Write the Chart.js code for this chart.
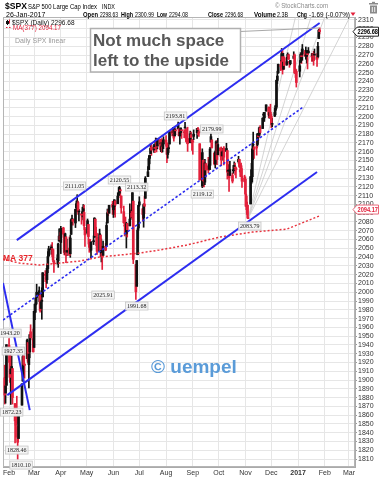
<!DOCTYPE html>
<html>
<head>
<meta charset="utf-8">
<script src="https://cdn.jsdelivr.net/npm/chart.js@4.4.0/dist/chart.umd.min.js"></script>
<style>
  html, body { margin: 0; padding: 0; background: #fff; overflow: hidden; }
  canvas { display: block; }
</style>
</head>
<body>
<canvas id="spxChart" width="379" height="480"></canvas>
<script>
// daily candles, $SPX
const dates = [
  '2016-01-27','2016-01-28','2016-01-29',
  '2016-02-01','2016-02-02','2016-02-03','2016-02-04','2016-02-05','2016-02-08','2016-02-09','2016-02-10','2016-02-11','2016-02-12','2016-02-16','2016-02-17','2016-02-18','2016-02-19','2016-02-22','2016-02-23','2016-02-24','2016-02-25','2016-02-26','2016-02-29',
  '2016-03-01','2016-03-02','2016-03-03','2016-03-04','2016-03-07','2016-03-08','2016-03-09','2016-03-10','2016-03-11','2016-03-14','2016-03-15','2016-03-16','2016-03-17','2016-03-18','2016-03-21','2016-03-22','2016-03-23','2016-03-24','2016-03-28','2016-03-29','2016-03-30','2016-03-31',
  '2016-04-01','2016-04-04','2016-04-05','2016-04-06','2016-04-07','2016-04-08','2016-04-11','2016-04-12','2016-04-13','2016-04-14','2016-04-15','2016-04-18','2016-04-19','2016-04-20','2016-04-21','2016-04-22','2016-04-25','2016-04-26','2016-04-27','2016-04-28','2016-04-29',
  '2016-05-02','2016-05-03','2016-05-04','2016-05-05','2016-05-06','2016-05-09','2016-05-10','2016-05-11','2016-05-12','2016-05-13','2016-05-16','2016-05-17','2016-05-18','2016-05-19','2016-05-20','2016-05-23','2016-05-24','2016-05-25','2016-05-26','2016-05-27','2016-05-31',
  '2016-06-01','2016-06-02','2016-06-03','2016-06-06','2016-06-07','2016-06-08','2016-06-09','2016-06-10','2016-06-13','2016-06-14','2016-06-15','2016-06-16','2016-06-17','2016-06-20','2016-06-21','2016-06-22','2016-06-23','2016-06-24','2016-06-27','2016-06-28','2016-06-29','2016-06-30',
  '2016-07-01','2016-07-05','2016-07-06','2016-07-07','2016-07-08','2016-07-11','2016-07-12','2016-07-13','2016-07-14','2016-07-15','2016-07-18','2016-07-19','2016-07-20','2016-07-21','2016-07-22','2016-07-25','2016-07-26','2016-07-27','2016-07-28','2016-07-29',
  '2016-08-01','2016-08-02','2016-08-03','2016-08-04','2016-08-05','2016-08-08','2016-08-09','2016-08-10','2016-08-11','2016-08-12','2016-08-15','2016-08-16','2016-08-17','2016-08-18','2016-08-19','2016-08-22','2016-08-23','2016-08-24','2016-08-25','2016-08-26','2016-08-29','2016-08-30','2016-08-31',
  '2016-09-01','2016-09-02','2016-09-06','2016-09-07','2016-09-08','2016-09-09','2016-09-12','2016-09-13','2016-09-14','2016-09-15','2016-09-16','2016-09-19','2016-09-20','2016-09-21','2016-09-22','2016-09-23','2016-09-26','2016-09-27','2016-09-28','2016-09-29','2016-09-30',
  '2016-10-03','2016-10-04','2016-10-05','2016-10-06','2016-10-07','2016-10-10','2016-10-11','2016-10-12','2016-10-13','2016-10-14','2016-10-17','2016-10-18','2016-10-19','2016-10-20','2016-10-21','2016-10-24','2016-10-25','2016-10-26','2016-10-27','2016-10-28','2016-10-31',
  '2016-11-01','2016-11-02','2016-11-03','2016-11-04','2016-11-07','2016-11-08','2016-11-09','2016-11-10','2016-11-11','2016-11-14','2016-11-15','2016-11-16','2016-11-17','2016-11-18','2016-11-21','2016-11-22','2016-11-23','2016-11-25','2016-11-28','2016-11-29','2016-11-30',
  '2016-12-01','2016-12-02','2016-12-05','2016-12-06','2016-12-07','2016-12-08','2016-12-09','2016-12-12','2016-12-13','2016-12-14','2016-12-15','2016-12-16','2016-12-19','2016-12-20','2016-12-21','2016-12-22','2016-12-23','2016-12-27','2016-12-28','2016-12-29','2016-12-30',
  '2017-01-03','2017-01-04','2017-01-05','2017-01-06','2017-01-09','2017-01-10','2017-01-11','2017-01-12','2017-01-13','2017-01-17','2017-01-18','2017-01-19','2017-01-20','2017-01-23','2017-01-24','2017-01-25','2017-01-26'
];
const opens = [
  1902.5,1885.2,1894.0,
  1936.9,1935.3,1907.07,1911.67,1913.07,1873.25,1848.46,1857.1,1847.0,1833.4,1871.44,1898.8,1927.57,1916.74,1924.44,1942.77,1917.56,1931.87,1954.95,1947.13,
  1937.09,1976.6,1985.6,1994.01,1996.11,1996.88,1981.44,1990.97,1994.71,2019.27,2015.27,2014.24,2026.9,2041.16,2048.64,2048.64,2048.55,2032.48,2037.89,2035.75,2058.27,2063.77,
  2056.62,2073.19,2062.5,2045.56,2063.01,2045.54,2050.23,2043.72,2065.92,2082.89,2083.1,2078.83,2096.05,2101.52,2102.09,2091.49,2089.37,2089.84,2092.57,2090.93,2071.82,
  2067.17,2077.18,2060.3,2052.95,2047.77,2057.55,2062.63,2083.29,2067.17,2062.5,2046.53,2065.04,2044.38,2044.21,2041.88,2052.23,2052.65,2078.93,2091.44,2090.06,2100.13,
  2093.94,2097.71,2104.07,2100.83,2110.18,2112.71,2115.65,2109.57,2091.75,2076.65,2077.6,2066.36,2078.2,2075.58,2085.19,2089.75,2092.8,2103.81,2031.45,2006.67,2042.69,2073.17,
  2099.34,2095.05,2084.43,2100.42,2106.97,2131.72,2139.5,2155.81,2157.88,2165.13,2162.04,2163.79,2166.1,2172.91,2166.47,2173.71,2168.97,2169.81,2166.05,2168.83,
  2173.15,2169.94,2156.81,2163.51,2168.79,2183.76,2182.24,2182.81,2177.97,2183.74,2186.08,2186.24,2177.84,2181.9,2184.24,2181.58,2187.81,2185.09,2173.29,2175.1,2170.19,2179.45,2173.56,
  2171.33,2177.49,2181.61,2185.17,2182.76,2169.08,2120.86,2150.47,2127.86,2125.36,2146.48,2143.99,2145.94,2144.58,2170.94,2173.29,2158.54,2146.04,2161.85,2168.9,2156.51,
  2164.33,2163.37,2155.15,2158.22,2164.19,2160.39,2161.35,2137.67,2130.26,2139.68,2132.95,2138.31,2140.81,2142.51,2139.43,2148.5,2151.16,2136.97,2144.06,2132.23,2129.78,
  2128.68,2109.43,2098.8,2083.79,2100.59,2129.92,2131.56,2167.49,2162.71,2165.64,2168.29,2177.53,2178.61,2186.85,2186.43,2201.56,2198.55,2206.27,2210.21,2200.76,2204.97,
  2200.17,2191.12,2200.65,2207.26,2210.72,2241.13,2249.73,2258.83,2263.32,2268.35,2253.77,2266.81,2259.24,2266.5,2270.54,2262.93,2260.25,2266.23,2270.23,2249.5,2251.61,
  2251.57,2261.6,2268.18,2271.14,2273.59,2269.72,2268.6,2271.14,2272.74,2269.14,2269.14,2271.9,2269.96,2267.78,2267.88,2288.88,2298.63
];
const highs = [
  1916.99,1902.96,1940.24,
  1947.2,1935.3,1918.01,1927.35,1913.07,1873.25,1868.25,1881.6,1847.0,1864.78,1895.77,1930.68,1930.0,1918.78,1946.7,1942.77,1932.08,1951.83,1962.96,1958.27,
  1978.35,1986.51,1993.69,2009.13,2006.12,1996.88,1992.69,2005.08,2022.37,2024.57,2015.94,2032.02,2046.24,2052.36,2053.91,2056.6,2048.55,2036.04,2042.67,2055.91,2072.21,2067.92,
  2075.07,2074.02,2062.5,2067.33,2063.01,2060.63,2062.93,2065.05,2083.18,2087.84,2083.22,2094.66,2104.05,2111.05,2103.78,2094.32,2089.37,2096.87,2099.89,2099.3,2073.85,
  2083.42,2077.18,2060.3,2060.23,2057.72,2064.15,2084.87,2083.29,2073.99,2066.79,2071.88,2065.69,2060.61,2044.21,2058.35,2055.58,2079.67,2094.73,2094.3,2099.06,2103.48,
  2100.97,2105.26,2104.07,2113.36,2119.22,2120.55,2117.64,2109.57,2098.12,2081.3,2085.65,2079.62,2078.2,2100.66,2093.66,2099.71,2113.32,2103.81,2031.45,2036.09,2073.13,2098.94,
  2108.71,2095.05,2100.72,2109.08,2131.71,2143.16,2155.4,2156.45,2169.05,2169.05,2168.35,2164.63,2175.63,2174.56,2175.11,2173.71,2173.54,2174.98,2172.85,2177.09,
  2178.29,2170.2,2163.79,2168.19,2182.87,2185.44,2187.66,2183.41,2188.45,2186.28,2193.81,2186.24,2183.08,2187.03,2185.0,2185.15,2193.42,2186.66,2179.0,2187.94,2183.48,2182.27,2173.79,
  2173.56,2184.87,2186.57,2187.87,2184.94,2169.08,2163.3,2150.47,2141.33,2151.31,2146.48,2153.61,2150.8,2165.11,2179.99,2173.75,2158.54,2161.13,2172.4,2172.67,2175.3,
  2164.41,2165.46,2163.95,2162.93,2165.86,2169.6,2161.56,2145.36,2138.19,2149.19,2135.61,2144.38,2148.44,2147.18,2142.63,2154.79,2151.44,2145.73,2147.13,2140.72,2133.25,
  2131.45,2111.76,2102.56,2099.07,2132.0,2146.87,2170.1,2182.3,2165.92,2171.36,2180.84,2179.22,2188.06,2189.89,2198.7,2204.8,2204.72,2213.35,2211.14,2210.46,2214.1,
  2202.6,2197.95,2209.42,2212.78,2241.63,2251.69,2259.8,2264.03,2277.53,2276.2,2272.12,2268.05,2267.47,2272.56,2271.23,2263.18,2263.79,2273.82,2271.31,2254.51,2253.58,
  2263.88,2272.82,2271.5,2282.1,2275.49,2279.27,2275.32,2271.78,2278.68,2272.08,2272.01,2274.33,2276.96,2271.78,2284.63,2299.55,2300.99
];
const lows = [
  1872.7,1873.65,1894.0,
  1920.03,1897.29,1872.23,1900.52,1872.65,1828.46,1834.94,1850.32,1810.1,1833.4,1871.44,1898.8,1915.09,1902.17,1924.44,1919.44,1891.0,1925.41,1945.78,1931.81,
  1937.09,1968.8,1977.37,1986.77,1989.38,1977.43,1979.84,1969.25,1994.71,2012.05,2005.23,2010.04,2022.16,2041.16,2043.14,2040.57,2034.86,2022.49,2031.96,2028.31,2058.27,2057.46,
  2043.98,2062.57,2042.56,2043.09,2033.8,2041.69,2041.88,2039.74,2065.92,2078.13,2076.31,2073.65,2091.68,2096.32,2088.52,2081.2,2077.52,2085.8,2082.31,2071.62,2052.28,
  2066.11,2054.89,2045.55,2045.77,2039.45,2054.31,2062.63,2064.46,2053.13,2043.13,2046.53,2040.82,2034.49,2025.91,2041.88,2047.26,2052.65,2078.93,2087.08,2090.06,2088.66,
  2085.1,2088.59,2085.36,2100.83,2110.18,2112.71,2107.73,2089.96,2078.46,2064.1,2069.8,2050.37,2062.84,2075.58,2083.02,2084.36,2092.8,2032.57,1991.68,2006.67,2042.69,2070.0,
  2097.9,2080.86,2074.02,2089.39,2106.97,2131.72,2139.5,2146.21,2157.88,2155.79,2159.07,2159.01,2164.89,2159.75,2163.24,2161.95,2160.18,2159.07,2159.74,2163.49,
  2166.21,2147.58,2152.63,2159.07,2168.79,2177.85,2178.61,2172.0,2177.97,2179.42,2186.08,2178.14,2168.5,2180.46,2175.13,2175.96,2186.8,2171.25,2169.74,2160.39,2170.19,2170.41,2161.35,
  2157.09,2173.59,2175.1,2179.07,2177.49,2127.81,2119.12,2120.27,2119.9,2122.36,2131.2,2135.91,2139.17,2139.57,2170.94,2163.97,2145.04,2141.55,2151.79,2145.2,2156.51,
  2154.77,2144.01,2155.15,2150.28,2144.85,2160.39,2128.84,2132.77,2114.72,2132.98,2124.43,2135.49,2138.15,2133.44,2130.09,2146.91,2141.93,2131.59,2132.52,2119.36,2125.53,
  2097.85,2094.0,2085.23,2083.79,2100.59,2123.56,2125.35,2151.17,2152.49,2156.08,2166.38,2172.2,2176.65,2180.38,2186.43,2194.51,2194.51,2206.27,2198.36,2198.15,2198.81,
  2187.44,2188.37,2199.97,2202.21,2208.93,2237.57,2249.23,2252.37,2263.32,2248.44,2253.77,2254.24,2258.21,2266.14,2265.15,2256.08,2258.84,2266.15,2249.11,2244.56,2233.62,
  2245.13,2261.6,2260.45,2264.06,2268.9,2265.27,2260.83,2254.25,2271.51,2262.81,2263.35,2258.41,2265.01,2257.02,2266.68,2288.88,2294.08
];
const closes = [
  1882.95,1893.36,1940.24,
  1939.38,1903.03,1912.53,1915.45,1880.05,1853.44,1852.21,1851.86,1829.08,1864.78,1895.58,1926.82,1917.83,1917.78,1945.5,1921.27,1929.8,1951.7,1948.05,1932.23,
  1978.35,1986.45,1993.4,1999.99,2001.76,1979.26,1989.26,1989.57,2022.19,2019.64,2015.93,2027.22,2040.59,2049.58,2051.6,2049.8,2036.71,2035.94,2037.05,2055.01,2063.95,2059.74,
  2072.78,2066.13,2045.17,2066.66,2041.91,2047.6,2041.99,2061.72,2082.42,2082.78,2080.73,2094.34,2100.8,2102.4,2091.48,2091.58,2087.79,2091.7,2095.15,2075.81,2065.3,
  2081.43,2063.37,2051.12,2050.63,2057.14,2058.69,2084.39,2064.46,2064.11,2046.61,2066.66,2047.21,2047.63,2040.04,2052.32,2048.04,2076.06,2090.54,2090.1,2099.06,2096.95,
  2099.33,2105.26,2099.13,2109.41,2112.13,2119.12,2115.48,2096.07,2079.06,2075.32,2071.5,2077.99,2071.22,2083.25,2088.9,2085.45,2113.32,2037.41,2000.54,2036.09,2070.77,2098.86,
  2102.95,2088.55,2099.73,2097.9,2129.9,2137.16,2152.14,2152.43,2163.75,2161.74,2166.89,2163.78,2173.02,2165.17,2175.03,2168.48,2169.18,2166.58,2170.06,2173.6,
  2170.84,2157.03,2163.79,2164.25,2182.87,2180.89,2181.74,2175.49,2185.79,2184.05,2190.15,2178.15,2182.22,2187.02,2183.87,2182.64,2186.9,2175.44,2172.47,2169.04,2180.38,2176.12,2170.95,
  2170.86,2179.98,2186.48,2186.16,2181.3,2127.81,2159.04,2127.02,2125.77,2147.26,2139.16,2139.12,2139.76,2163.12,2177.18,2164.69,2146.1,2159.93,2171.37,2151.13,2168.27,
  2161.2,2150.49,2159.73,2160.77,2153.74,2163.66,2136.73,2139.18,2132.55,2132.98,2126.5,2139.6,2144.29,2141.34,2141.16,2151.33,2143.16,2139.43,2133.04,2126.41,2126.15,
  2111.72,2097.94,2088.66,2085.18,2131.52,2139.56,2163.26,2167.48,2164.45,2164.2,2180.39,2176.94,2187.12,2181.9,2198.18,2202.94,2204.72,2213.35,2201.72,2204.66,2198.81,
  2191.08,2191.95,2204.71,2212.23,2241.35,2246.19,2259.53,2256.96,2271.72,2253.28,2262.03,2258.07,2262.53,2270.76,2265.18,2260.96,2263.79,2268.88,2249.92,2249.26,2238.83,
  2257.83,2270.75,2269.0,2276.98,2268.9,2268.9,2275.32,2270.44,2274.64,2267.89,2271.89,2263.69,2271.31,2265.2,2280.07,2298.37,2296.68
];
const volumeText = '2.3B';

// 377-day moving average
const maDates = ['2016-01-25','2016-02-13','2016-03-07','2016-03-31','2016-04-23','2016-05-16','2016-06-08','2016-07-01','2016-07-24','2016-08-25','2016-10-02','2016-11-09','2016-12-19','2017-01-26'];
const maValues = [2037.8, 2033.2, 2031.0, 2033.2, 2035.5, 2040.1, 2042.3, 2044.6, 2048.0, 2053.7, 2062.8, 2068.5, 2071.9, 2087.0];
const maLast = 2094.17;

// hand drawn trend lines
const upperDates = ['2016-02-10', '2017-01-26'];
const upperValues = [2059.4, 2306.6];
const midDates = ['2016-01-25', '2017-01-07'];
const midValues = [1968.3, 2210.9];
const lowerDates = ['2016-01-30', '2017-01-23'];
const lowerValues = [1882.9, 2136.9];
const steepDates = ['2016-01-25', '2016-02-25'];
const steepValues = [2010.5, 1865.8];
const fanStartDate = '2016-11-04';
const fanStartValue = 2083.79;
const fanEndDates = ['2016-12-29', '2017-01-16', '2017-02-01', '2017-03-02'];
const fanEndValue = 2313.4;

// price call-outs (box centre)
const calloutTexts = ['1943.20','1927.35','1872.23','1828.46','1810.10','2111.05','2120.55','2113.32','1991.68','2025.91','2193.81','2179.99','2119.12','2083.79'];
const calloutDates = ['2016-02-02','2016-02-06','2016-02-04','2016-02-10','2016-02-15','2016-04-17','2016-06-08','2016-06-28','2016-06-28','2016-05-20','2016-08-12','2016-09-23','2016-09-12','2016-11-06'];
const calloutValues = [1953.5, 1933.0, 1863.5, 1820.3, 1803.2, 2121.0, 2127.8, 2119.8, 1984.3, 1996.8, 2200.7, 2185.9, 2111.8, 2075.4];

const monthTicks = ['2016-02-01','2016-03-01','2016-04-01','2016-05-01','2016-06-01','2016-07-01','2016-08-01','2016-09-01','2016-10-01','2016-11-01','2016-12-01','2017-01-01','2017-02-01','2017-03-01'];
const monthLabels = ['Feb','Mar','Apr','May','Jun','Jul','Aug','Sep','Oct','Nov','Dec','2017','Feb','Mar'];

const FONT = '"Liberation Sans", Arial, sans-serif';
const RED = '#e3203b';
const BLUE = '#2d2df0';
const day0 = Date.parse('2016-02-01');
const toX = (d) => (Date.parse(d) - day0) / 86400000;

const xs = dates.map(toX);
const candleColors = closes.map((c, i) => {
  const up = i === 0 ? c >= opens[i] : c >= closes[i - 1];
  return up ? '#111111' : RED;
});

function lineSet(ds, vs, color, width, dash, order) {
  return {
    type: 'line',
    data: ds.map((d, i) => ({ x: toX(d), y: vs[i] })),
    borderColor: color,
    borderWidth: width,
    borderDash: dash,
    pointRadius: 0,
    fill: false,
    tension: 0,
    order: order
  };
}

const fanSets = fanEndDates.map(d => lineSet([fanStartDate, d], [fanStartValue, fanEndValue], '#c9c9c9', 0.8, [], 6));

function txt(ctx, s, x, y, font, color, align) {
  ctx.font = font;
  ctx.fillStyle = color;
  ctx.textAlign = align || 'left';
  ctx.fillText(s, x, y);
}

// text squeezed into [x0, x1] when it is wider than that
function fitTxt(ctx, s, x0, x1, y, font, color) {
  ctx.font = font;
  ctx.fillStyle = color;
  ctx.textAlign = 'left';
  const w = ctx.measureText(s).width;
  const room = x1 - x0;
  if (w <= room) { ctx.fillText(s, x0, y); return; }
  ctx.save();
  ctx.translate(x0, y);
  ctx.scale(room / w, 1);
  ctx.fillText(s, 0, 0);
  ctx.restore();
}

const annotate = {
  id: 'annotate',
  beforeDraw(chart) {
    const ctx = chart.ctx;
    ctx.save();
    ctx.fillStyle = '#fff';
    ctx.fillRect(0, 0, chart.width, chart.height);
    ctx.restore();
  },
  beforeDatasetsDraw(chart) {
    const { ctx, chartArea: a } = chart;
    ctx.save();
    ctx.strokeStyle = '#b5b5b5';
    ctx.lineWidth = 1;
    ctx.strokeRect(a.left + 0.5, a.top + 0.5, a.right - a.left - 1, a.bottom - a.top - 1);
    ctx.restore();
  },
  afterDraw(chart) {
    const { ctx } = chart;
    const xS = chart.scales.x, yS = chart.scales.y;
    const n = closes.length - 1;
    ctx.save();
    ctx.textBaseline = 'alphabetic';

    // header
    fitTxt(ctx, '$SPX', 5, 27, 9, 'bold 9px ' + FONT, '#000');
    fitTxt(ctx, 'S&P 500 Large Cap Index', 28, 97, 8.5, '7px ' + FONT, '#000');
    fitTxt(ctx, 'INDX', 102, 115, 8.5, '6.5px ' + FONT, '#000');
    fitTxt(ctx, '\u00a9 StockCharts.com', 275, 328, 8, '6.5px ' + FONT, '#8a8a8a');
    fitTxt(ctx, '26-Jan-2017', 6, 49, 16.5, '7px ' + FONT, '#000');
    const chg = closes[n] - closes[n - 1];
    const pct = chg / closes[n - 1] * 100;
    const hdr = [
      ['Open', 83, 98, true], [opens[n].toFixed(2), 100, 118, false],
      ['High', 121, 133, true], [highs[n].toFixed(2), 135, 154, false],
      ['Low', 157, 167, true], [lows[n].toFixed(2), 169, 188, false],
      ['Close', 208, 223, true], [closes[n].toFixed(2), 225, 243, false],
      ['Volume', 254, 276, true], [volumeText, 277, 288, false],
      ['Chg', 297, 307, true], [chg.toFixed(2) + ' (' + pct.toFixed(2) + '%)', 309, 350, false]
    ];
    hdr.forEach(h => fitTxt(ctx, h[0], h[1], h[2], 16.5, (h[3] ? 'bold ' : '') + '7px ' + FONT, '#000'));
    ctx.fillStyle = RED;
    ctx.beginPath();
    ctx.moveTo(350.5, 12.5); ctx.lineTo(355.5, 12.5); ctx.lineTo(353, 16);
    ctx.closePath(); ctx.fill();
    // trash can
    ctx.fillStyle = '#8a8a8a';
    ctx.fillRect(369, 3, 9, 1.5);
    ctx.fillRect(372, 1.8, 3, 1.5);
    ctx.fillRect(370, 5.5, 7, 8);
    ctx.fillStyle = '#fff';
    ctx.fillRect(371.8, 7, 0.9, 5); ctx.fillRect(374.3, 7, 0.9, 5);

    // legend in the plot
    ctx.fillStyle = '#111';
    ctx.fillRect(7, 20, 1, 5); ctx.fillRect(6, 21, 3, 3);
    ctx.fillStyle = RED;
    ctx.fillRect(9, 19.5, 1, 4);
    fitTxt(ctx, '$SPX (Daily) ' + closes[n].toFixed(2), 12, 82, 24.5, '6.5px ' + FONT, '#111');
    ctx.strokeStyle = RED; ctx.lineWidth = 1; ctx.setLineDash([1.5, 1.5]);
    ctx.beginPath(); ctx.moveTo(6, 27.5); ctx.lineTo(12, 27.5); ctx.stroke();
    ctx.setLineDash([]);
    fitTxt(ctx, 'MA(377) ' + maLast.toFixed(2), 13, 61, 30, '6.5px ' + FONT, RED);
    txt(ctx, 'Daily SPX linear', 15, 43, '7px ' + FONT, '#999');

    // comment box with its pointer
    const tipX = xS.getPixelForValue(xs[n]);
    const tipY = yS.getPixelForValue(highs[n]);
    ctx.strokeStyle = '#a8a8a8'; ctx.lineWidth = 1;
    ctx.beginPath(); ctx.moveTo(240, 31.5); ctx.lineTo(tipX, tipY); ctx.stroke();
    ctx.fillStyle = '#fff';
    ctx.fillRect(90, 28.5, 150, 43.5);
    ctx.lineWidth = 1.5; ctx.strokeStyle = '#b0b0b0';
    ctx.strokeRect(90.5, 28.5, 150, 43.5);
    txt(ctx, 'Not much space', 93, 46, 'bold 17px ' + FONT, '#585858');
    txt(ctx, 'left to the upside', 93, 66, 'bold 17px ' + FONT, '#585858');

    // MA label and watermark
    txt(ctx, 'MA 377', 3, 261, 'bold 8.5px ' + FONT, '#e8262b');
    txt(ctx, '\u00a9 uempel', 151, 373, 'bold 19px ' + FONT, '#5a9bd8');

    // price call-outs
    ctx.font = '6px "Liberation Serif", "Times New Roman", serif';
    ctx.textAlign = 'center';
    ctx.textBaseline = 'middle';
    calloutTexts.forEach((s, i) => {
      const cx = xS.getPixelForValue(toX(calloutDates[i]));
      const cy = yS.getPixelForValue(calloutValues[i]);
      const w = ctx.measureText(s).width + 3;
      ctx.fillStyle = 'rgba(244,244,244,0.95)';
      ctx.fillRect(cx - w / 2, cy - 4, w, 8);
      ctx.strokeStyle = '#c6c6c6'; ctx.lineWidth = 0.8;
      ctx.strokeRect(cx - w / 2, cy - 4, w, 8);
      ctx.fillStyle = '#222';
      ctx.fillText(s, cx, cy + 0.5);
    });

    // value tags on the price axis
    const tag = (val, stroke, color) => {
      const y = yS.getPixelForValue(val);
      ctx.fillStyle = '#fff';
      ctx.strokeStyle = stroke; ctx.lineWidth = 1;
      ctx.beginPath();
      ctx.moveTo(353, y); ctx.lineTo(357, y - 4.5); ctx.lineTo(378.5, y - 4.5);
      ctx.lineTo(378.5, y + 4.5); ctx.lineTo(357, y + 4.5); ctx.closePath();
      ctx.fill(); ctx.stroke();
      ctx.textBaseline = 'middle';
      fitTxt(ctx, val.toFixed(2), 357.5, 378, y + 0.5, 'bold 7px ' + FONT, color);
    };
    tag(maLast, '#e86a7a', RED);
    tag(closes[n], '#222', '#000');
    ctx.restore();
  }
};

const spxChart = new Chart(document.getElementById('spxChart').getContext('2d'), {
  type: 'bar',
  data: {
    datasets: [
      lineSet(upperDates, upperValues, BLUE, 2, [], 0),
      lineSet(lowerDates, lowerValues, BLUE, 2, [], 0),
      lineSet(steepDates, steepValues, BLUE, 2, [], 0),
      lineSet(midDates, midValues, BLUE, 1.6, [2.5, 2], 1),
      lineSet(maDates, maValues, '#e8343f', 1.5, [2, 2], 2),
      {
        type: 'bar',
        data: xs.map((x, i) => ({ x: x, y: [opens[i], closes[i]] })),
        backgroundColor: candleColors,
        barThickness: 2,
        minBarLength: 1,
        grouped: false,
        borderWidth: 0,
        order: 3
      },
      {
        type: 'bar',
        data: xs.map((x, i) => ({ x: x, y: [lows[i], highs[i]] })),
        backgroundColor: candleColors,
        barThickness: 1,
        grouped: false,
        borderWidth: 0,
        order: 4
      },
      ...fanSets
    ]
  },
  options: {
    responsive: false,
    animation: false,
    layout: { padding: { left: 3, top: 17, right: 0, bottom: 0 } },
    plugins: { legend: { display: false }, tooltip: { enabled: false } },
    scales: {
      x: {
        type: 'linear',
        offset: false,
        min: -7,
        max: 401,
        grid: { color: '#e6e6e6', offset: false, drawTicks: false },
        border: { display: true, color: '#aaa' },
        afterBuildTicks: (s) => { s.ticks = monthTicks.map(d => ({ value: toX(d) })); },
        afterFit: (s) => { s.height = 13; s.paddingLeft = 0; s.paddingRight = 0; },
        ticks: {
          autoSkip: false,
          maxRotation: 0,
          padding: 2,
          color: '#333',
          font: (c) => ({ family: FONT, size: 7, weight: c.index === 11 ? 'bold' : 'normal' }),
          callback: (v, i) => monthLabels[i]
        }
      },
      y: {
        position: 'right',
        min: 1801,
        max: 2313.4,
        grid: { color: '#e6e6e6', drawTicks: true, tickLength: 2, tickColor: '#999' },
        border: { display: true, color: '#aaa' },
        afterBuildTicks: (s) => {
          const t = [];
          for (let v = 1810; v <= 2310; v += 10) t.push({ value: v });
          s.ticks = t;
        },
        afterFit: (s) => { s.width = 24; s.paddingTop = 0; s.paddingBottom = 0; },
        ticks: {
          autoSkip: false,
          padding: 1,
          color: '#333',
          font: { family: FONT, size: 7 },
          callback: (v) => String(v)
        }
      }
    }
  },
  plugins: [annotate]
});
</script>
</body>
</html>
